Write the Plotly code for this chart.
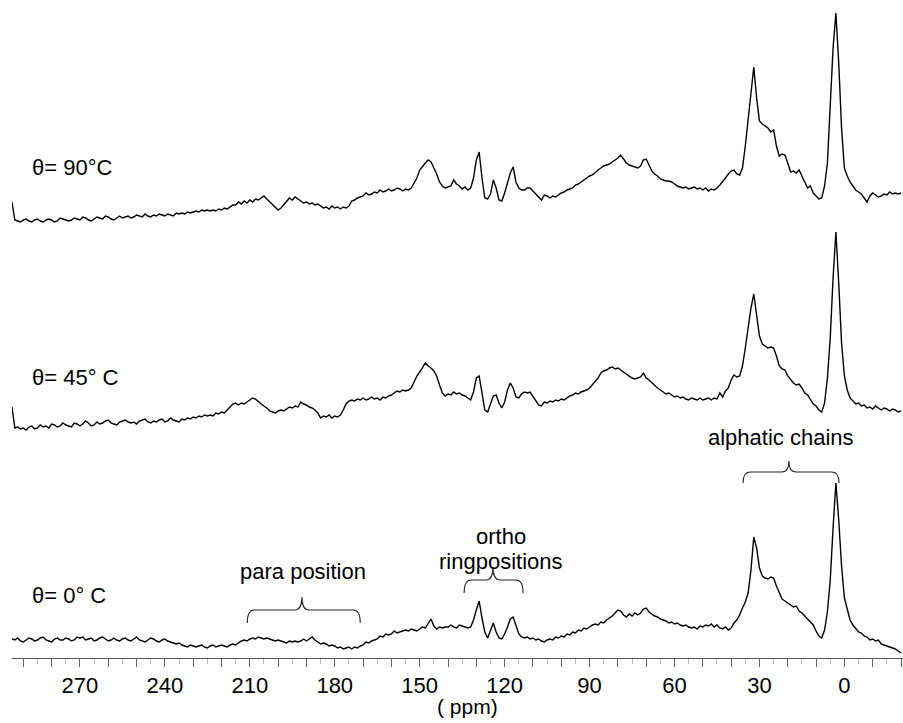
import plotly.graph_objects as go

# chemical shift grid (ppm), high -> low
ppm = list(range(294, -21, -1))

# intensities (arbitrary units, one value per ppm)
spec_0C = [
    19, 18, 20, 17, 16, 18, 20, 19, 17, 18,   # 294..285
    20, 21, 18, 17, 16, 19, 20, 18, 18, 20,   # 284..275
    19, 17, 18, 21, 20, 21, 18, 19, 20, 17,   # 274..265
    18, 20, 21, 19, 17, 18, 20, 18, 17, 19,   # 264..255
    20, 18, 17, 19, 21, 18, 17, 16, 18, 20,   # 254..245
    19, 17, 16, 18, 19, 17, 16, 15, 14, 15,   # 244..235
    13, 12, 11, 13, 12, 11, 12, 13, 11, 10,   # 234..225
    12, 13, 11, 12, 13, 12, 11, 13, 14, 13,   # 224..215
    15, 17, 18, 17, 19, 20, 19, 21, 20, 19,   # 214..205
    20, 19, 18, 17, 18, 17, 16, 15, 17, 16,   # 204..195
    17, 16, 17, 19, 17, 19, 21, 18, 16, 14,   # 194..185
    15, 14, 12, 13, 12, 10, 11, 9, 10, 11,    # 184..175
    9, 11, 10, 12, 13, 16, 15, 17, 18, 19,    # 174..165
    22, 21, 24, 23, 24, 27, 25, 26, 27, 28,   # 164..155
    27, 29, 28, 27, 29, 31, 30, 34, 39, 32,   # 154..145
    29, 31, 30, 31, 31, 33, 31, 30, 33, 32,   # 144..135
    31, 30, 31, 38, 48, 57, 40, 26, 20, 27,   # 134..125
    35, 26, 20, 19, 24, 31, 39, 41, 32, 24,   # 124..115
    21, 20, 21, 19, 20, 18, 19, 17, 16, 18,   # 114..105
    19, 18, 21, 20, 22, 21, 24, 23, 26, 25,   # 104..95
    28, 27, 30, 29, 31, 33, 34, 33, 36, 35,   # 94..85
    38, 40, 42, 45, 48, 47, 43, 41, 44, 42,   # 84..75
    45, 43, 45, 49, 50, 46, 44, 42, 41, 39,   # 74..65
    38, 37, 35, 36, 34, 35, 33, 32, 33, 31,   # 64..55
    30, 31, 29, 32, 31, 33, 32, 34, 31, 33,   # 54..45
    30, 29, 31, 28, 30, 35, 38, 43, 50, 56,   # 44..35
    65, 88, 121, 110, 90, 82, 80, 79, 81, 80, # 34..25
    72, 66, 59, 57, 55, 53, 51, 52, 47, 45,   # 24..15
    42, 40, 36, 33, 27, 22, 20, 28, 46, 78,   # 14..5
    130, 175, 138, 92, 60, 50, 38, 33, 30, 26,  # 4..-5
    25, 22, 21, 18, 19, 17, 18, 14, 13, 12,   # -6..-15
    11, 10, 9, 7, 5,                          # -16..-20
]

spec_45C = [
    41, 20, 21, 19, 20, 18, 21, 22, 19, 20,
    23, 21, 22, 20, 24, 23, 21, 22, 25, 23,
    22, 21, 25, 24, 22, 24, 27, 25, 22, 23,
    26, 24, 25, 27, 28, 25, 24, 23, 26, 27,
    28, 26, 25, 26, 24, 27, 28, 29, 26, 25,
    27, 26, 28, 29, 26, 27, 30, 28, 27, 26,
    29, 28, 30, 29, 31, 30, 32, 31, 33, 32,
    33, 32, 35, 34, 36, 35, 38, 41, 44, 45,
    43, 45, 44, 46, 48, 50, 49, 46, 44, 42,
    40, 37, 36, 35, 37, 38, 37, 39, 41, 40,
    42, 41, 46, 44, 43, 41, 40, 38, 35, 30,
    32, 31, 33, 30, 32, 31, 33, 38, 44, 47,
    48, 47, 49, 48, 50, 48, 49, 51, 49, 50,
    48, 51, 50, 52, 53, 55, 57, 56, 58, 57,
    58, 60, 66, 72, 76, 80, 85, 82, 80, 77,
    72, 63, 55, 52, 54, 53, 56, 54, 55, 53,
    52, 50, 48, 56, 70, 72, 55, 38, 36, 44,
    52, 53, 45, 40, 46, 58, 65, 60, 51, 50,
    54, 56, 55, 56, 52, 48, 43, 42, 46, 45,
    47, 46, 48, 47, 49, 48, 50, 52, 53, 55,
    54, 56, 57, 58, 60, 63, 66, 70, 75, 77,
    78, 80, 81, 79, 80, 78, 76, 74, 72, 70,
    69, 70, 71, 75, 70, 68, 65, 62, 60, 58,
    56, 54, 55, 53, 51, 52, 50, 51, 49, 48,
    50, 49, 48, 50, 48, 49, 50, 48, 50, 49,
    55, 51, 57, 60, 68, 73, 71, 72, 82, 100,
    122, 140, 154, 135, 112, 104, 102, 100, 101, 100,
    92, 82, 79, 78, 72, 68, 65, 63, 64, 60,
    55, 53, 48, 44, 42, 38, 36, 45, 70, 110,
    170, 216, 165, 105, 72, 58, 50, 47, 44, 45,
    42, 43, 40, 41, 39, 42, 40, 38, 40, 39,
    37, 39, 38, 36, 37,
]

spec_90C = [
    36, 18, 17, 16, 18, 19, 17, 16, 18, 19,
    17, 16, 18, 19, 18, 16, 17, 20, 19, 18,
    17, 18, 20, 19, 18, 21, 20, 18, 17, 19,
    21, 20, 19, 22, 21, 19, 18, 20, 22, 20,
    21, 22, 20, 21, 23, 22, 21, 24, 22, 21,
    23, 22, 24, 23, 22, 24, 23, 22, 25, 24,
    25, 24, 26, 25, 26, 27, 26, 28, 27, 28,
    27, 28, 27, 29, 28, 30, 29, 31, 33, 33,
    36, 34, 37, 35, 38, 36, 39, 38, 40, 42,
    39, 36, 33, 30, 28, 30, 33, 37, 40, 38,
    41, 39, 37, 35, 36, 34, 35, 33, 34, 32,
    30, 31, 29, 32, 30, 31, 29, 31, 30, 32,
    37, 38, 40, 41, 42, 45, 43, 44, 46, 45,
    48, 46, 47, 49, 47, 48, 50, 49, 47, 49,
    48, 50, 55, 60, 68, 72, 75, 78, 76, 70,
    64, 56, 52, 50, 51, 52, 58, 54, 52, 49,
    51, 48, 50, 60, 78, 86, 60, 40, 39, 44,
    58, 50, 38, 37, 45, 55, 65, 71, 56, 50,
    48, 48, 50, 50, 47, 44, 40, 38, 43, 42,
    40, 42, 41, 43, 45, 46, 48, 49, 50, 53,
    54, 56, 58, 60, 62, 63, 66, 68, 70, 72,
    73, 74, 76, 78, 80, 83, 79, 75, 73, 72,
    71, 70, 72, 78, 79, 72, 67, 64, 62, 59,
    58, 57, 57, 56, 54, 52, 51, 50, 51, 49,
    50, 51, 49, 50, 48, 50, 47, 49, 48, 50,
    53, 56, 60, 64, 67, 68, 64, 63, 70, 92,
    118, 145, 171, 140, 117, 114, 112, 110, 106, 108,
    92, 82, 84, 83, 75, 66, 67, 65, 68, 62,
    56, 50, 52, 45, 42, 39, 40, 52, 75, 138,
    190, 225, 175, 110, 70, 62, 56, 52, 48, 46,
    44, 40, 36, 42, 45, 43, 41, 42, 44, 43,
    46, 44, 45, 44, 45,
]

spectra = [spec_0C, spec_45C, spec_90C]
offsets = [0, 210, 420]
temp_labels = ["θ= 0° C", "θ= 45° C", "θ= 90°C"]
label_y = [63, 281, 491]

major_ticks = list(range(-20, 291, 10))
tick_text = [str(v) if (v % 30 == 0 and 0 <= v <= 270) else "" for v in major_ticks]

FONT = "Liberation Sans, Arial, Helvetica, sans-serif"

fig = go.Figure()
for spec, off in zip(spectra, offsets):
    fig.add_trace(go.Scatter(
        x=ppm, y=[v + off for v in spec], mode="lines",
        line=dict(color="black", width=1.4), showlegend=False,
        hoverinfo="skip", cliponaxis=False,
    ))

annotations = []
for txt, yy in zip(temp_labels, label_y):
    annotations.append(dict(x=287.6, y=yy, xref="x", yref="y", text=txt,
                            showarrow=False, xanchor="left", yanchor="middle",
                            font=dict(size=22, color="black", family=FONT)))
for txt, xx, yy in [("para position", 191.1, 87),
                    ("ortho", 121.2, 122),
                    ("ringpositions", 121.2, 97),
                    ("alphatic chains", 22.4, 221)]:
    annotations.append(dict(x=xx, y=yy, xref="x", yref="y", text=txt,
                            showarrow=False, xanchor="center", yanchor="middle",
                            font=dict(size=22, color="black", family=FONT)))
annotations.append(dict(x=133.1, y=-48 / 658, xref="x", yref="paper",
                        text="( ppm)", showarrow=False, xanchor="center",
                        yanchor="middle",
                        font=dict(size=21, color="black", family=FONT)))


def brace(x_left, x_right, x_cusp, y_end, y_arm, y_cusp, r=2.5):
    return (f"M {x_left},{y_end} Q {x_left},{y_arm} {x_left - r},{y_arm} "
            f"L {x_cusp + r},{y_arm} Q {x_cusp},{y_arm} {x_cusp},{y_cusp} "
            f"Q {x_cusp},{y_arm} {x_cusp - r},{y_arm} "
            f"L {x_right + r},{y_arm} Q {x_right},{y_arm} {x_right},{y_end}")


braces = [
    (210.9, 171.0, 191.6, 35, 48, 61),
    (134.3, 113.5, 124.1, 65, 78, 91),
    (35.8, 1.9, 19.6, 175, 186, 197),
]
shapes = [dict(type="path", xref="x", yref="y", path=brace(*b),
               line=dict(color="#222", width=1.1)) for b in braces]

fig.update_layout(
    width=903, height=723,
    margin=dict(l=12, r=0, t=0, b=65),
    paper_bgcolor="white", plot_bgcolor="white",
    font=dict(family=FONT, size=22, color="black"),
    annotations=annotations, shapes=shapes,
    xaxis=dict(
        range=[294.0, -20.7], showgrid=False, zeroline=False,
        showline=True, linecolor="#555", linewidth=1,
        tickmode="array", tickvals=major_ticks, ticktext=tick_text,
        ticks="outside", ticklen=8, tickcolor="#666", tickwidth=1,
        tickfont=dict(size=22, color="black", family=FONT),
        minor=dict(ticks="outside", dtick=5, tick0=0, ticklen=5,
                   tickcolor="#bbb", tickwidth=1),
    ),
    yaxis=dict(range=[0, 658], visible=False, showgrid=False, zeroline=False),
)

fig.write_html("out.html")
